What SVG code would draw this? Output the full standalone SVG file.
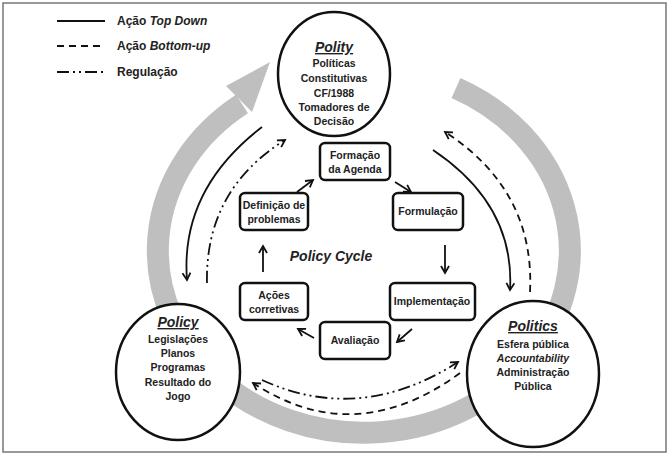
<svg xmlns="http://www.w3.org/2000/svg" width="669" height="456" viewBox="0 0 669 456">
<defs>
<style>
text{font-family:"Liberation Sans Narrow","Liberation Sans",Arial,sans-serif;font-weight:bold;font-size:10.5px;fill:#222;text-anchor:middle}
.node{fill:#fff;stroke:#111;stroke-width:2.5}
.c{fill:none;stroke:#111;stroke-width:1.8}
.da{stroke-dasharray:7,5}
.dd{stroke-dasharray:12,4,2,4,2,4}
.h{font-size:14px;font-style:italic;text-decoration:underline}
</style>
<marker id="ah" markerWidth="10" markerHeight="10" refX="8" refY="5" orient="auto" markerUnits="userSpaceOnUse"><path d="M1,1 L8,5 L1,9" fill="none" stroke="#111" stroke-width="1.8"/></marker>
</defs>
<rect x="3" y="3" width="663" height="449" fill="#fff" stroke="#777" stroke-width="1.5"/>
<g id="ring">
<path d="M456,88 A206,182 0 1 1 242,104" fill="none" stroke="#bfbfbf" stroke-width="22"/>
<polygon points="270,62 226,86 252,112" fill="#bfbfbf"/>
</g>
<g id="legend">
<line x1="57" y1="21" x2="105" y2="21" class="c"/>
<line x1="57" y1="46" x2="105" y2="46" class="c da"/>
<line x1="57" y1="72" x2="105" y2="72" class="c dd"/>
<text x="117" y="25" style="text-anchor:start;font-size:12px">Ação <tspan font-style="italic">Top Down</tspan></text>
<text x="117" y="50" style="text-anchor:start;font-size:12px">Ação <tspan font-style="italic">Bottom-up</tspan></text>
<text x="117" y="76" style="text-anchor:start;font-size:12px">Regulação</text>
</g>
<g id="connectors">
<path class="c" d="M262,127 Q180,190 187,280" marker-end="url(#ah)"/>
<path class="c dd" d="M207,283 Q205,190 285,140" marker-end="url(#ah)"/>
<path class="c" d="M433,150 Q515,205 510,290" marker-end="url(#ah)"/>
<path class="c da" d="M530,292 Q535,190 445,132" marker-end="url(#ah)"/>
<path class="c dd" d="M262,380 Q360,425 458,362" marker-end="url(#ah)"/>
<path class="c da" d="M460,373 Q355,450 253,383" marker-end="url(#ah)"/>
<path class="c" d="M297,192 L313,180" marker-end="url(#ah)"/>
<path class="c" d="M395,182 L411,192" marker-end="url(#ah)"/>
<path class="c" d="M445,245 L445,273" marker-end="url(#ah)"/>
<path class="c" d="M412,329 L397,342" marker-end="url(#ah)"/>
<path class="c" d="M314,338 L298,329" marker-end="url(#ah)"/>
<path class="c" d="M263,272 L263,246" marker-end="url(#ah)"/>
</g>
<g id="polity">
<ellipse cx="334" cy="74" rx="56" ry="62" class="node"/>
<text x="334" y="52" class="h">Polity</text>
<text x="334" y="67">Políticas</text>
<text x="334" y="82">Constitutivas</text>
<text x="334" y="97">CF/1988</text>
<text x="334" y="111">Tomadores de</text>
<text x="334" y="125">Decisão</text>
</g>
<g id="policy">
<ellipse cx="178" cy="372" rx="62" ry="68" class="node"/>
<text x="178" y="327" class="h">Policy</text>
<text x="178" y="343">Legislações</text>
<text x="178" y="357">Planos</text>
<text x="178" y="371">Programas</text>
<text x="178" y="386">Resultado do</text>
<text x="178" y="400">Jogo</text>
</g>
<g id="politics">
<ellipse cx="533" cy="374" rx="66" ry="73" class="node"/>
<text x="533" y="331" class="h">Politics</text>
<text x="533" y="348">Esfera pública</text>
<text x="533" y="362" font-style="italic">Accountability</text>
<text x="533" y="376">Administração</text>
<text x="533" y="390">Pública</text>
</g>
<g id="formacao"><rect x="320" y="143" width="70" height="37" rx="5" class="node"/><text x="355" y="159">Formação</text><text x="355" y="173">da Agenda</text></g>
<g id="definicao"><rect x="240" y="193" width="68" height="37" rx="5" class="node"/><text x="274" y="209">Definição de</text><text x="274" y="223">problemas</text></g>
<g id="formulacao"><rect x="393" y="193" width="70" height="37" rx="5" class="node"/><text x="428" y="215">Formulação</text></g>
<g id="implementacao"><rect x="390" y="283" width="85" height="37" rx="5" class="node"/><text x="432" y="305">Implementação</text></g>
<g id="avaliacao"><rect x="320" y="322" width="70" height="37" rx="5" class="node"/><text x="355" y="344">Avaliação</text></g>
<g id="acoes"><rect x="240" y="283" width="68" height="37" rx="5" class="node"/><text x="274" y="299">Ações</text><text x="274" y="313">corretivas</text></g>
<text x="331" y="261" style="font-size:14px;font-style:italic">Policy Cycle</text>
</svg>
